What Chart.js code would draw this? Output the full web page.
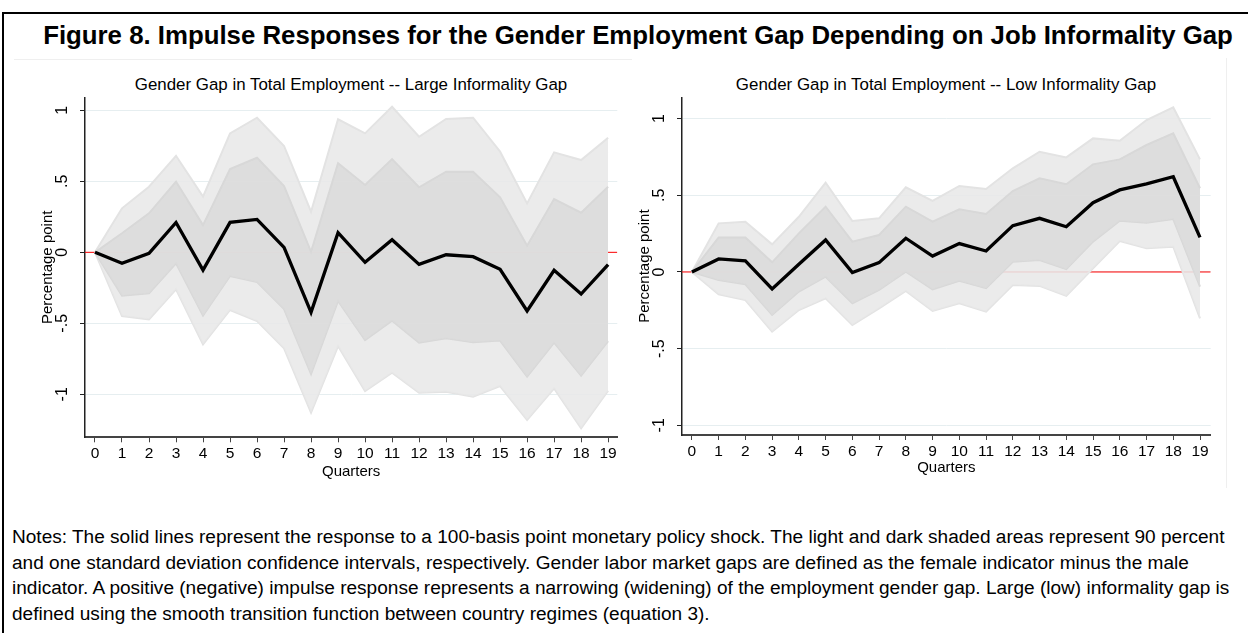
<!DOCTYPE html>
<html>
<head>
<meta charset="utf-8">
<script src="https://cdn.jsdelivr.net/npm/chart.js@4.4.0/dist/chart.umd.min.js"></script>
<style>
    body { margin: 0; background: #fff; font-family: "Liberation Sans", Arial, sans-serif; color: #000; }
    #pagina { position: relative; width: 1248px; height: 633px; overflow: hidden; }
    #moldura { position: absolute; left: 2px; top: 12px; width: 1300px; height: 700px; border-top: 2px solid #000; border-left: 2px solid #000; }
    #titulo { position: absolute; left: 0; top: 20px; width: 1276px; text-align: center; font-weight: bold; font-size: 25.8px; line-height: 30px; white-space: nowrap; }
    .subtitulo { position: absolute; top: 75px; width: 600px; text-align: center; font-size: 16.9px; line-height: 20px; white-space: nowrap; }
    .borda-img { position: absolute; background: #efefef; }
    canvas { position: absolute; top: 59px; }
    #notas { position: absolute; left: 12px; top: 525px; font-size: 18px; line-height: 25.7px; white-space: nowrap; transform: scaleX(1.058); transform-origin: 0 0; }
</style>
</head>
<body>
<div id="pagina">
    <div id="moldura"></div>
    <div id="titulo">Figure 8. Impulse Responses for the Gender Employment Gap Depending on Job Informality Gap</div>
    <div class="borda-img" style="left:14px; top:59px; width:618px; height:1px;"></div>
    <div class="borda-img" style="left:1226px; top:58px; width:1px; height:430px;"></div>
    <div class="subtitulo" style="left:51px;">Gender Gap in Total Employment -- Large Informality Gap</div>
    <div class="subtitulo" style="left:646px;">Gender Gap in Total Employment -- Low Informality Gap</div>
    <canvas id="graficoGrande" width="598" height="430" style="left:25px;"></canvas>
    <canvas id="graficoBaixo" width="600" height="430" style="left:622px;"></canvas>
    <div id="notas">Notes: The solid lines represent the response to a 100-basis point monetary policy shock. The light and dark shaded areas represent 90 percent<br>and one standard deviation confidence intervals, respectively. Gender labor market gaps are defined as the female indicator minus the male<br>indicator. A positive (negative) impulse response represents a narrowing (widening) of the employment gender gap. Large (low) informality gap is<br>defined using the smooth transition function between country regimes (equation 3).</div>
</div>
<script>
const trimestres = [0, 1, 2, 3, 4, 5, 6, 7, 8, 9, 10, 11, 12, 13, 14, 15, 16, 17, 18, 19];
const yTicks = [-1, -0.5, 0, 0.5, 1];
const yTickLabels = ['-1', '-.5', '0', '.5', '1'];

// Large informality gap
const grandeIrf = [0, -0.077, -0.007, 0.21, -0.125, 0.211, 0.232, 0.035, -0.423, 0.138, -0.07, 0.089, -0.085, -0.017, -0.031, -0.12, -0.413, -0.127, -0.294, -0.087];
const grandeSup90 = [0, 0.31, 0.462, 0.68, 0.392, 0.838, 0.948, 0.749, 0.286, 0.937, 0.838, 1.025, 0.814, 0.939, 0.948, 0.709, 0.345, 0.704, 0.65, 0.807];
const grandeInf90 = [0, -0.449, -0.472, -0.261, -0.648, -0.406, -0.484, -0.676, -1.129, -0.66, -0.977, -0.848, -0.989, -0.982, -1.017, -0.942, -1.181, -0.958, -1.239, -0.975];
const grandeSup68 = [0, 0.134, 0.275, 0.497, 0.192, 0.587, 0.666, 0.467, 0.004, 0.627, 0.474, 0.657, 0.458, 0.568, 0.568, 0.387, 0.047, 0.375, 0.279, 0.462];
const grandeInf68 = [0, -0.305, -0.289, -0.077, -0.446, -0.167, -0.209, -0.4, -0.857, -0.343, -0.618, -0.481, -0.636, -0.606, -0.634, -0.622, -0.876, -0.636, -0.869, -0.625];

// Low informality gap
const baixoIrf = [0, 0.085, 0.072, -0.111, 0.05, 0.209, -0.004, 0.061, 0.22, 0.104, 0.185, 0.137, 0.302, 0.35, 0.295, 0.452, 0.535, 0.574, 0.621, 0.226];
const baixoSup90 = [0, 0.317, 0.328, 0.18, 0.36, 0.582, 0.332, 0.35, 0.552, 0.463, 0.561, 0.541, 0.676, 0.784, 0.747, 0.871, 0.856, 0.991, 1.073, 0.734];
const baixoInf90 = [0, -0.146, -0.183, -0.389, -0.248, -0.172, -0.346, -0.237, -0.124, -0.254, -0.204, -0.259, -0.085, -0.091, -0.156, 0.024, 0.202, 0.154, 0.165, -0.302];
const baixoSup68 = [0, 0.224, 0.224, 0.063, 0.252, 0.426, 0.198, 0.241, 0.426, 0.328, 0.409, 0.378, 0.528, 0.611, 0.572, 0.702, 0.734, 0.828, 0.904, 0.546];
const baixoInf68 = [0, -0.052, -0.08, -0.28, -0.128, -0.031, -0.204, -0.117, 0.002, -0.113, -0.057, -0.106, 0.067, 0.078, 0.018, 0.198, 0.334, 0.321, 0.345, -0.096];

function pontos(valores) {
    return trimestres.map((t, i) => ({ x: t, y: valores[i] }));
}

function criarGrafico(id, serie, cfg) {
    const ctx = document.getElementById(id).getContext('2d');
    return new Chart(ctx, {
        type: 'line',
        data: {
            datasets: [
                { data: pontos(serie.inf90), borderColor: '#e3e3e3', borderWidth: 2, fill: false, order: 9 },
                { data: pontos(serie.sup90), borderColor: '#e3e3e3', borderWidth: 2, fill: '-1', backgroundColor: 'rgba(232,232,232,0.88)', order: 8 },
                { data: pontos(serie.inf68), borderColor: '#d8d8d8', borderWidth: 2, fill: false, order: 7 },
                { data: pontos(serie.sup68), borderColor: '#d8d8d8', borderWidth: 2, fill: '-1', backgroundColor: 'rgba(220,220,220,0.88)', order: 6 },
                { data: [{ x: cfg.xMin, y: 0 }, { x: cfg.xMax, y: 0 }], borderColor: '#ff0000', borderWidth: 1, fill: false, order: 10 },
                { data: pontos(serie.irf), borderColor: '#000', borderWidth: 3.3, fill: false, order: 1 }
            ]
        },
        options: {
            responsive: false,
            animation: false,
            events: [],
            elements: { point: { radius: 0 }, line: { tension: 0 } },
            layout: { padding: { top: 38.3, right: cfg.padDir, left: 0, bottom: 0 } },
            plugins: {
                legend: { display: false },
                tooltip: { enabled: false },
                filler: { drawTime: 'beforeDatasetDraw' }
            },
            scales: {
                x: {
                    type: 'linear',
                    min: cfg.xMin,
                    max: cfg.xMax,
                    afterBuildTicks: s => { s.ticks = trimestres.map(v => ({ value: v })); },
                    afterFit: s => { s.height = cfg.alturaX; },
                    ticks: { color: '#000', font: { size: 15.5 }, padding: 2, maxRotation: 0, autoSkip: false, callback: v => String(v) },
                    grid: { drawOnChartArea: false, tickLength: 5, tickColor: '#444', lineWidth: 1 },
                    border: { color: '#444', width: 2 },
                    title: { display: true, text: 'Quarters', color: '#000', font: { size: 15 }, padding: { top: 0, bottom: cfg.padTitX } }
                },
                y: {
                    type: 'linear',
                    min: cfg.yMin,
                    max: cfg.yMax,
                    afterBuildTicks: s => { s.ticks = yTicks.map(v => ({ value: v })); },
                    afterFit: s => { s.width = 60; },
                    ticks: {
                        color: '#000', font: { size: 16 }, padding: 8, minRotation: 90, maxRotation: 90, crossAlign: 'center',
                        callback: v => yTickLabels[yTicks.indexOf(v)]
                    },
                    grid: { color: '#e6eef0', lineWidth: 1, tickLength: 5, tickColor: '#222' },
                    border: { color: '#222', width: 1.5 },
                    title: { display: true, text: 'Percentage point', color: '#000', font: { size: 15 }, padding: { top: 13.5, bottom: 0 } }
                }
            }
        }
    });
}

criarGrafico('graficoGrande',
    { irf: grandeIrf, sup90: grandeSup90, inf90: grandeInf90, sup68: grandeSup68, inf68: grandeInf68 },
    { xMin: -0.37, xMax: 19.34, yMin: -1.303, yMax: 1.092, padDir: 5.7, alturaX: 51.7, padTitX: 8 });

criarGrafico('graficoBaixo',
    { irf: baixoIrf, sup90: baixoSup90, inf90: baixoInf90, sup68: baixoSup68, inf68: baixoInf68 },
    { xMin: -0.37, xMax: 19.4, yMin: -1.063, yMax: 1.139, padDir: 11.3, alturaX: 54, padTitX: 12 });
</script>
</body>
</html>
